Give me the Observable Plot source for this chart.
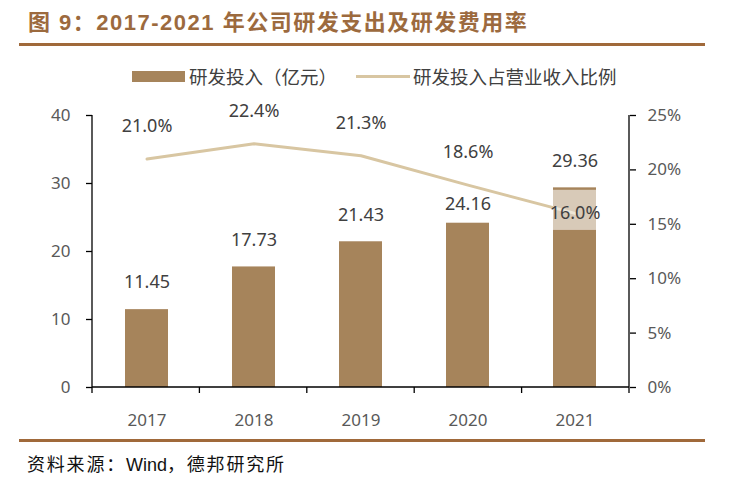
<!DOCTYPE html>
<html>
<head>
<meta charset="utf-8">
<script src="https://cdn.jsdelivr.net/npm/d3@7"></script>
<script src="https://cdn.jsdelivr.net/npm/@observablehq/plot@0.6"></script>
<style>
  html, body { margin: 0; padding: 0; background: #fff; }
  #wrap { position: relative; width: 731px; height: 483px; overflow: hidden; font-family: "Noto Sans", "Noto Sans CJK SC", sans-serif; }
  #title { position: absolute; left: 28px; top: 4px; font-family: "Liberation Sans", "Noto Sans CJK SC", sans-serif; font-weight: bold; font-size: 22px; letter-spacing: 1.5px; color: #9c6a3e; white-space: nowrap; }
  .rule { position: absolute; left: 19px; width: 686px; height: 3px; background: #a0693a; }
  #legend { position: absolute; top: 64px; left: 0; width: 731px; height: 24px; font-family: "Noto Sans CJK SC", sans-serif; font-size: 18.5px; color: #404040; }
  #legend .item { position: absolute; top: 0; display: flex; align-items: center; height: 24px; white-space: nowrap; }
  #chart { position: absolute; left: 0; top: 95px; }
  #source { position: absolute; left: 27px; top: 450px; font-family: "Noto Sans CJK SC", sans-serif; font-size: 18px; letter-spacing: 1.8px; color: #111; white-space: nowrap; }
</style>
</head>
<body>
<div id="wrap">
  <div id="title">图 9：2017-2021 年公司研发支出及研发费用率</div>
  <div class="rule" style="top:43px"></div>
  <div id="legend"></div>
  <div id="chart"></div>
  <div class="rule" style="top:439px"></div>
  <div id="source">资料来源：<span style="font-family:'Liberation Sans';letter-spacing:0">Wind</span>，德邦研究所</div>
</div>
<script>
const years = ["2017", "2018", "2019", "2020", "2021"];
const rdSpend = [11.45, 17.73, 21.43, 24.16, 29.36];      // 研发投入（亿元）
const rdRatio = [21.0, 22.4, 21.3, 18.6, 16.0];            // 研发投入占营业收入比例 (%)
const leftTicks = [0, 10, 20, 30, 40];
const rightTicks = [0, 5, 10, 15, 20, 25];
const seriesNames = ["研发投入（亿元）", "研发投入占营业收入比例"];

const barColor = "#a6845b";
const lineColor = "#d8c6a2";
const labelColor = "#404040";
const tickColor = "#595959";
const numFont = "'Noto Sans', 'Open Sans', sans-serif";

const leftMax = 40, rightMax = 25;
const toLeft = p => p * leftMax / rightMax;

const data = years.map((year, i) => ({ year, rd: rdSpend[i], pct: rdRatio[i] }));
const last = data[data.length - 1];

// Legend
const legend = document.getElementById("legend");
legend.innerHTML = `
  <div class="item" style="left:132px"><span style="display:inline-block;width:53px;height:11px;background:${barColor};margin-right:4px"></span>${seriesNames[0]}</div>
  <div class="item" style="left:356px"><span style="display:inline-block;width:54px;height:3px;background:${lineColor};margin-right:3px"></span>${seriesNames[1]}</div>`;

// Axis lines and category boundary ticks
const frameMark = (index, scales, values, dimensions) => {
  const { width, height, marginLeft, marginRight, marginTop, marginBottom } = dimensions;
  const x0 = marginLeft, x1 = width - marginRight, y0 = marginTop, y1 = height - marginBottom;
  const g = d3.create("svg:g").attr("stroke", "#000").attr("stroke-width", 1.3).attr("fill", "none");
  g.append("line").attr("x1", x0).attr("x2", x0).attr("y1", y0).attr("y2", y1);
  g.append("line").attr("x1", x1).attr("x2", x1).attr("y1", y0).attr("y2", y1);
  g.append("line").attr("x1", x0).attr("x2", x1).attr("y1", y1).attr("y2", y1);
  const n = years.length;
  for (let i = 0; i <= n; i++) {
    const xx = x0 + (x1 - x0) * i / n;
    g.append("line").attr("x1", xx).attr("x2", xx).attr("y1", y1).attr("y2", y1 + 6);
  }
  return g.node();
};

const chart = Plot.plot({
  width: 731,
  height: 345,
  marginTop: 20,
  marginBottom: 53,
  marginLeft: 92,
  marginRight: 102,
  style: { fontFamily: numFont, background: "transparent" },
  x: { domain: years, paddingInner: 0.6, paddingOuter: 0.3, label: null },
  y: { domain: [0, leftMax], label: null },
  marks: [
    Plot.barY(data, { x: "year", y: "rd", fill: barColor }),
    Plot.line(data, { x: "year", y: d => toLeft(d.pct), stroke: lineColor, strokeWidth: 3 }),
    Plot.barY([last], { x: "year", y1: d => toLeft(d.pct) - 2.5, y2: d => toLeft(d.pct) + 3.4, fill: "#fff", fillOpacity: 0.57 }),
    frameMark,
    Plot.axisY(leftTicks, { anchor: "left", tickSize: 6, tickPadding: 16, fontSize: 17, fill: tickColor, stroke: "#000", strokeWidth: 1.3 }),
    Plot.axisY(rightTicks.map(toLeft), { anchor: "right", tickSize: 6, tickPadding: 12, fontSize: 17, fill: tickColor, stroke: "#000", strokeWidth: 1.3, tickFormat: d => Math.round(d * rightMax / leftMax) + "%" }),
    Plot.axisX({ tickSize: 0, tickPadding: 26, fontSize: 17, fill: tickColor }),
    Plot.text(data.filter(d => d.year !== "2020"), { x: "year", y: "rd", text: d => d.rd.toFixed(2), dy: -27, fontSize: 18, fill: labelColor }),
    Plot.text(data.filter(d => d.year === "2020"), { x: "year", y: "rd", text: d => d.rd.toFixed(2), dy: -19, fontSize: 18, fill: labelColor }),
    Plot.text(data.filter(d => d !== last), { x: "year", y: d => toLeft(d.pct), text: d => d.pct.toFixed(1) + "%", dy: -33, fontSize: 18, fill: labelColor }),
    Plot.text([last], { x: "year", y: d => toLeft(d.pct), text: d => d.pct.toFixed(1) + "%", fontSize: 18, fill: labelColor })
  ]
});
document.getElementById("chart").appendChild(chart);
</script>
</body>
</html>
